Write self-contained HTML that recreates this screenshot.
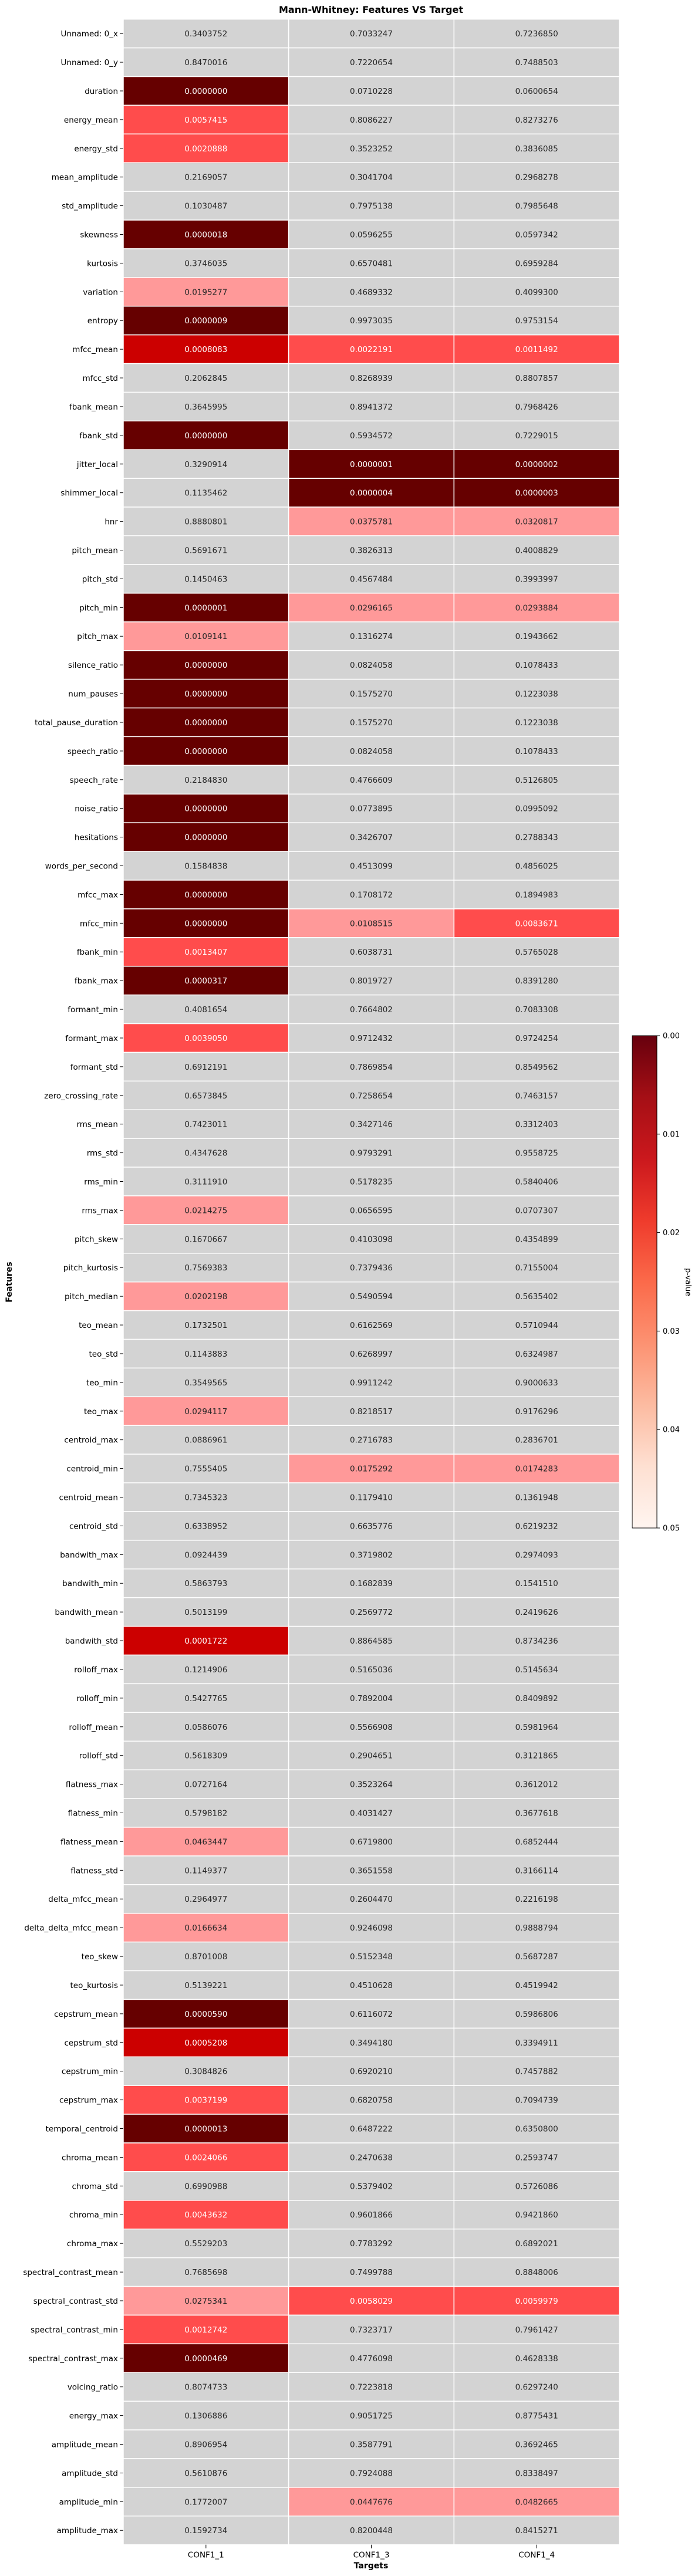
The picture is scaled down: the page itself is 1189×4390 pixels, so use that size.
<!DOCTYPE html>
<html><head><meta charset="utf-8"><style>
html,body{margin:0;padding:0;background:#fff}
svg{display:block;font-family:"DejaVu Sans","Liberation Sans",sans-serif}
</style></head><body>
<svg id="chart" xmlns="http://www.w3.org/2000/svg" width="1189" height="4390" viewBox="0 0 1189 4390">
<text x="632" y="22" text-anchor="middle" font-size="16" font-weight="bold" fill="#000">Mann-Whitney: Features VS Target</text>
<g id="cells"></g>
<g id="ylabels"></g>
<g id="xlabels"></g>
<text transform="translate(20,2185) rotate(-90)" text-anchor="middle" font-size="14" font-weight="bold">Features</text>
<text x="632" y="4377" text-anchor="middle" font-size="14" font-weight="bold">Targets</text>
<defs><linearGradient id="reds" x1="0" y1="0" x2="0" y2="1">
<stop offset="0" stop-color="#67000d"/><stop offset="0.125" stop-color="#a50f15"/><stop offset="0.25" stop-color="#cb181d"/><stop offset="0.375" stop-color="#ef3b2c"/><stop offset="0.5" stop-color="#fb6a4a"/><stop offset="0.625" stop-color="#fc9272"/><stop offset="0.75" stop-color="#fcbba1"/><stop offset="0.875" stop-color="#fee0d2"/><stop offset="1" stop-color="#fff5f0"/>
</linearGradient></defs>
<g id="colorbar">
<rect x="1077" y="1765" width="42" height="839" fill="url(#reds)" stroke="#000" stroke-width="1"/>
</g>
<text transform="translate(1168,2185) rotate(90)" text-anchor="middle" font-size="13">p-value</text>
</svg>
<script>
const features = ["Unnamed: 0_x","Unnamed: 0_y","duration","energy_mean","energy_std","mean_amplitude","std_amplitude","skewness","kurtosis","variation","entropy","mfcc_mean","mfcc_std","fbank_mean","fbank_std","jitter_local","shimmer_local","hnr","pitch_mean","pitch_std","pitch_min","pitch_max","silence_ratio","num_pauses","total_pause_duration","speech_ratio","speech_rate","noise_ratio","hesitations","words_per_second","mfcc_max","mfcc_min","fbank_min","fbank_max","formant_min","formant_max","formant_std","zero_crossing_rate","rms_mean","rms_std","rms_min","rms_max","pitch_skew","pitch_kurtosis","pitch_median","teo_mean","teo_std","teo_min","teo_max","centroid_max","centroid_min","centroid_mean","centroid_std","bandwith_max","bandwith_min","bandwith_mean","bandwith_std","rolloff_max","rolloff_min","rolloff_mean","rolloff_std","flatness_max","flatness_min","flatness_mean","flatness_std","delta_mfcc_mean","delta_delta_mfcc_mean","teo_skew","teo_kurtosis","cepstrum_mean","cepstrum_std","cepstrum_min","cepstrum_max","temporal_centroid","chroma_mean","chroma_std","chroma_min","chroma_max","spectral_contrast_mean","spectral_contrast_std","spectral_contrast_min","spectral_contrast_max","voicing_ratio","energy_max","amplitude_mean","amplitude_std","amplitude_min","amplitude_max"];
const targets = ["CONF1_1","CONF1_3","CONF1_4"];
const conf1_1 = [0.3403752,0.8470016,0.0000000,0.0057415,0.0020888,0.2169057,0.1030487,0.0000018,0.3746035,0.0195277,0.0000009,0.0008083,0.2062845,0.3645995,0.0000000,0.3290914,0.1135462,0.8880801,0.5691671,0.1450463,0.0000001,0.0109141,0.0000000,0.0000000,0.0000000,0.0000000,0.2184830,0.0000000,0.0000000,0.1584838,0.0000000,0.0000000,0.0013407,0.0000317,0.4081654,0.0039050,0.6912191,0.6573845,0.7423011,0.4347628,0.3111910,0.0214275,0.1670667,0.7569383,0.0202198,0.1732501,0.1143883,0.3549565,0.0294117,0.0886961,0.7555405,0.7345323,0.6338952,0.0924439,0.5863793,0.5013199,0.0001722,0.1214906,0.5427765,0.0586076,0.5618309,0.0727164,0.5798182,0.0463447,0.1149377,0.2964977,0.0166634,0.8701008,0.5139221,0.0000590,0.0005208,0.3084826,0.0037199,0.0000013,0.0024066,0.6990988,0.0043632,0.5529203,0.7685698,0.0275341,0.0012742,0.0000469,0.8074733,0.1306886,0.8906954,0.5610876,0.1772007,0.1592734];
const conf1_3 = [0.7033247,0.7220654,0.0710228,0.8086227,0.3523252,0.3041704,0.7975138,0.0596255,0.6570481,0.4689332,0.9973035,0.0022191,0.8268939,0.8941372,0.5934572,0.0000001,0.0000004,0.0375781,0.3826313,0.4567484,0.0296165,0.1316274,0.0824058,0.1575270,0.1575270,0.0824058,0.4766609,0.0773895,0.3426707,0.4513099,0.1708172,0.0108515,0.6038731,0.8019727,0.7664802,0.9712432,0.7869854,0.7258654,0.3427146,0.9793291,0.5178235,0.0656595,0.4103098,0.7379436,0.5490594,0.6162569,0.6268997,0.9911242,0.8218517,0.2716783,0.0175292,0.1179410,0.6635776,0.3719802,0.1682839,0.2569772,0.8864585,0.5165036,0.7892004,0.5566908,0.2904651,0.3523264,0.4031427,0.6719800,0.3651558,0.2604470,0.9246098,0.5152348,0.4510628,0.6116072,0.3494180,0.6920210,0.6820758,0.6487222,0.2470638,0.5379402,0.9601866,0.7783292,0.7499788,0.0058029,0.7323717,0.4776098,0.7223818,0.9051725,0.3587791,0.7924088,0.0447676,0.8200448];
const conf1_4 = [0.7236850,0.7488503,0.0600654,0.8273276,0.3836085,0.2968278,0.7985648,0.0597342,0.6959284,0.4099300,0.9753154,0.0011492,0.8807857,0.7968426,0.7229015,0.0000002,0.0000003,0.0320817,0.4008829,0.3993997,0.0293884,0.1943662,0.1078433,0.1223038,0.1223038,0.1078433,0.5126805,0.0995092,0.2788343,0.4856025,0.1894983,0.0083671,0.5765028,0.8391280,0.7083308,0.9724254,0.8549562,0.7463157,0.3312403,0.9558725,0.5840406,0.0707307,0.4354899,0.7155004,0.5635402,0.5710944,0.6324987,0.9000633,0.9176296,0.2836701,0.0174283,0.1361948,0.6219232,0.2974093,0.1541510,0.2419626,0.8734236,0.5145634,0.8409892,0.5981964,0.3121865,0.3612012,0.3677618,0.6852444,0.3166114,0.2216198,0.9888794,0.5687287,0.4519942,0.5986806,0.3394911,0.7457882,0.7094739,0.6350800,0.2593747,0.5726086,0.9421860,0.6892021,0.8848006,0.0059979,0.7961427,0.4628338,0.6297240,0.8775431,0.3692465,0.8338497,0.0482665,0.8415271];
const cbTicks = [0.00,0.01,0.02,0.03,0.04,0.05];

const NS="http://www.w3.org/2000/svg";
const X0=210, X1=1055, Y0=32.7, Y1=4336.7;
const colW=(X1-X0)/targets.length, rowH=(Y1-Y0)/features.length;
const xPos=i=>X0+i*colW, yPos=i=>Y0+i*rowH;
const cbY=v=>1765+(v/0.05)*839;
function col(p){ if(p>=0.05) return ["#d3d3d3","#262626"]; if(p<0.0001) return ["#660000","#fff"]; if(p<0.001) return ["#cc0000","#fff"]; if(p<0.01) return ["#ff4c4c","#fff"]; return ["#ff9999","#262626"]; }
function mk(tag,attrs,parent,txt){const e=document.createElementNS(NS,tag);for(const k in attrs)e.setAttribute(k,attrs[k]);if(txt!==undefined)e.textContent=txt;parent.appendChild(e);return e;}
const series=[conf1_1,conf1_3,conf1_4];
const cells=document.getElementById('cells'), yl=document.getElementById('ylabels'), xl=document.getElementById('xlabels'), cb=document.getElementById('colorbar');
features.forEach((f,r)=>{
  series.forEach((s,c)=>{
    const v=s[r]; const [bg,fg]=col(v);
    const rc=mk('rect',{x:xPos(c),y:yPos(r),width:colW,height:rowH,fill:bg,stroke:"#fff","stroke-width":1.5},cells);
    
    
    const t=mk('text',{x:xPos(c)+colW/2,y:yPos(r)+rowH/2+5,"text-anchor":"middle","font-size":13.5,fill:fg},cells,v.toFixed(7));
    
    
  });
  const cy=yPos(r)+rowH/2;
  const tk=mk('line',{x1:X0-6,x2:X0,y1:cy,y2:cy,stroke:"#000","stroke-width":1},yl);
  
  
  const lb=mk('text',{x:X0-9,y:cy+5,"text-anchor":"end","font-size":13.5,fill:"#000"},yl,f);
  
  
});
targets.forEach((t,c)=>{
  const cx=xPos(c)+colW/2;
  const tk=mk('line',{x1:cx,x2:cx,y1:Y1,y2:Y1+6,stroke:"#000","stroke-width":1},xl);
  
  
  const lb=mk('text',{x:cx,y:Y1+22,"text-anchor":"middle","font-size":13.5,fill:"#000"},xl,t);
  
  
});
cbTicks.forEach(v=>{
  const y=cbY(v);
  const tk=mk('line',{x1:1119,x2:1124,y1:y,y2:y,stroke:"#000","stroke-width":1},cb);
  
  
  const lb=mk('text',{x:1129,y:y+4.5,"font-size":13,fill:"#000"},cb,v.toFixed(2));
  
  
});
</script>
</body></html>
